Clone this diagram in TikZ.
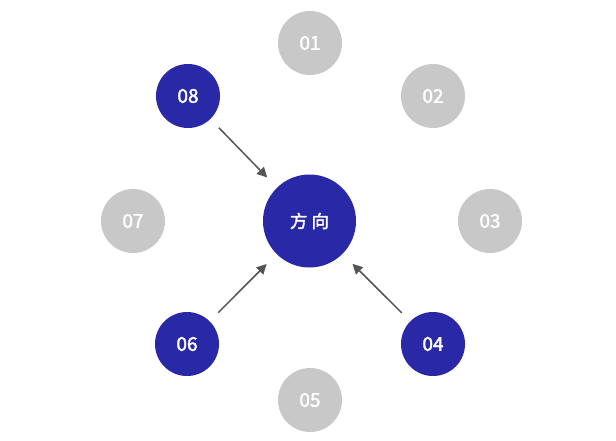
\documentclass[tikz,border=0pt]{standalone}
\usepackage{fontspec}
\setmainfont{Noto Sans CJK SC}
\newfontfamily\medfont[UprightFeatures={FakeBold=2.2}]{Noto Sans CJK SC}
\usetikzlibrary{arrows.meta}
\definecolor{bluec}{HTML}{2929A8}
\definecolor{grayc}{HTML}{C8C8C8}
\definecolor{arrowc}{HTML}{555555}
\tikzset{
  small/.style={circle,inner sep=0pt,minimum size=64pt,text=white,font=\medfont\fontsize{19}{20}\selectfont},
  off/.style={small,fill=grayc},
  on/.style={small,fill=bluec},
  hub/.style={circle,inner sep=0pt,minimum size=93pt,fill=bluec,text=white,font=\medfont\fontsize{17.5}{20}\selectfont},
  conn/.style={arrowc,line width=1.5pt,-{Triangle[length=10pt,width=10pt]},shorten <=12pt,shorten >=14pt}
}
\begin{document}
\begin{tikzpicture}[x=1pt,y=-1pt]
\useasboundingbox (0,0) rectangle (616,440);
\node[hub] (c) at (309.5,221) {方\kern4pt向};
\node[off] (n1) at (310,43) {01};
\node[off] (n2) at (433,96) {02};
\node[off] (n3) at (490,221) {03};
\node[on]  (n4) at (433,344) {04};
\node[off] (n5) at (310,400) {05};
\node[on]  (n6) at (187,344) {06};
\node[off] (n7) at (133,221) {07};
\node[on]  (n8) at (188,96) {08};
\draw[conn] (n8) -- (c);
\draw[conn] (n6) -- (c);
\draw[conn] (n4) -- (c);
\end{tikzpicture}
\end{document}
